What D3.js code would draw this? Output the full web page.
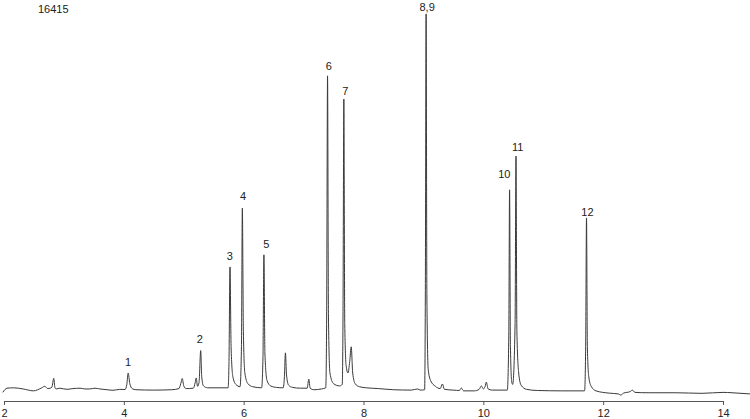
<!DOCTYPE html>
<html>
<head>
<meta charset="utf-8">
<script src="https://cdn.jsdelivr.net/npm/d3@7"></script>
<style>
  html, body { margin: 0; padding: 0; background: #fff; }
  svg { display: block; font-family: "Liberation Sans", Arial, sans-serif; }
</style>
</head>
<body>
<div id="chart"></div>
<script>
// sample id shown top-left
const sampleId = '16415';

// retention time (min) and detector signal
const traceTime = [
  1.98, 2.05, 2.16, 2.32, 2.49, 2.63, 2.68, 2.73, 2.77, 2.80, 2.83, 2.85, 2.87, 2.93,
  3.05, 3.15, 3.27, 3.35, 3.43, 3.52, 3.60, 3.72, 3.82, 3.93, 4.02, 4.05, 4.072, 4.10,
  4.14, 4.20, 4.50, 4.80, 4.92, 4.95, 4.975, 5.00, 5.04, 5.16, 5.19, 5.208, 5.23, 5.255,
  5.283, 5.30, 5.33, 5.40, 5.74, 5.755, 5.772, 5.79, 5.82, 5.87, 5.94, 5.963, 5.978, 5.995,
  6.02, 6.07, 6.15, 6.30, 6.322, 6.338, 6.355, 6.39, 6.45, 6.55, 6.66, 6.68, 6.697, 6.715,
  6.75, 6.82, 6.95, 7.06, 7.087, 7.11, 7.17, 7.30, 7.37, 7.385, 7.40, 7.415, 7.44, 7.50,
  7.60, 7.645, 7.658, 7.672, 7.687, 7.71, 7.74, 7.77, 7.795, 7.82, 7.86, 7.93, 8.05, 8.25,
  8.50, 8.80, 8.90, 8.95, 9.02, 9.032, 9.045, 9.058, 9.08, 9.12, 9.20, 9.28, 9.317, 9.35,
  9.50, 9.60, 9.633, 9.67, 9.85, 9.93, 9.967, 10.00, 10.03, 10.05, 10.08, 10.15, 10.40, 10.425,
  10.438, 10.452, 10.475, 10.49, 10.53, 10.545, 10.56, 10.59, 10.63, 10.72, 10.90, 11.30, 11.69, 11.708,
  11.722, 11.736, 11.76, 11.80, 11.88, 12.10, 12.25, 12.295, 12.34, 12.45, 12.488, 12.53, 12.75, 13.20,
  13.65, 14.00, 14.15, 14.45
];
const traceSignal = [
  -0.1, 1.0, 1.1, 0.8, 0.3, 1.1, 1.5, 0.9, 1.0, 1.3, 3.6, 1.2, 0.8, 1.0,
  0.7, 0.9, 1.0, 0.8, 0.8, 1.0, 0.8, 0.6, 0.45, 0.7, 0.65, 2.0, 5.0, 2.2,
  0.9, 0.6, 0.5, 0.6, 0.9, 2.2, 3.55, 1.6, 0.9, 1.0, 2.4, 3.7, 1.5, 2.5,
  10.9, 4.0, 1.6, 1.1, 1.1, 8, 32.9, 12, 4, 2, 1.4, 12, 48.4, 16,
  5, 2.2, 1.4, 1.1, 9, 36.1, 10, 3, 1.6, 1.2, 1.1, 4, 10.3, 4.5,
  1.8, 1.2, 1.0, 1.0, 3.4, 1.0, 0.6, 0.8, 1.1, 20, 83.2, 20, 5, 2.2,
  1.6, 2, 20, 77.1, 18, 7, 5, 8, 11.9, 5, 2.2, 1.4, 1.1, 0.9,
  0.6, 0.5, 0.8, 0.5, 0.6, 25, 99.5, 25, 6, 3, 1.5, 0.9, 2.1, 0.7,
  0.5, 0.4, 1.05, 0.3, 0.3, 0.7, 1.6, 0.8, 1.5, 2.6, 0.8, 0.5, 0.5, 15,
  53.2, 12, 2.5, 2, 18, 62.1, 16, 5, 1.8, 0.7, 0.4, 0.3, 0.3, 12,
  45.8, 12, 4, 1.5, 0.3, -0.3, -0.5, -0.8, -0.3, 0.1, 0.5, -0.1, -0.2, -0.2,
  -0.35, -0.1, -0.2, -0.5
];

// peak numbers and where their labels sit (time, signal at label baseline)
const peakLabels = ['1', '2', '3', '4', '5', '6', '7', '8,9', '10', '11', '12'];
const labelTime = [4.072, 5.267, 5.767, 5.988, 6.378, 7.422, 7.695, 9.062, 10.35, 10.572, 11.738];
const labelSignal = [6.8, 12.9, 34.7, 50.5, 37.9, 84.7, 78.2, 100.3, 56.3, 63.4, 46.3];

const xTicks = [2, 4, 6, 8, 10, 12, 14];

const width = 750;
const height = 419;

const svg = d3.select('#chart')
  .append('svg')
  .attr('width', width)
  .attr('height', height)
  .attr('viewBox', `0 0 ${width} ${height}`);

const x = d3.scaleLinear().domain([2, 14]).range([4, 723]);
const y = d3.scaleLinear().domain([0, 100]).range([392, 12]);

const trace = traceTime.map((t, i) => [t, traceSignal[i]]);

const line = d3.line()
  .x(d => x(d[0]))
  .y(d => y(d[1]))
  .curve(d3.curveMonotoneX);

svg.append('path')
  .datum(trace)
  .attr('fill', 'none')
  .attr('stroke', '#3a3a3a')
  .attr('stroke-width', 1)
  .attr('stroke-linejoin', 'round')
  .attr('d', line);

// x axis
const axis = svg.append('g')
  .attr('transform', 'translate(0,401)')
  .call(d3.axisBottom(x)
    .tickValues(xTicks)
    .tickSize(4)
    .tickSizeOuter(0)
    .tickPadding(4)
    .tickFormat(d3.format('d')));

axis.select('.domain').attr('stroke', '#555');
axis.selectAll('.tick line').attr('stroke', '#555');
axis.selectAll('.tick text')
  .attr('fill', '#222')
  .style('font-size', '11px')
  .style('font-family', '"Liberation Sans", Arial, sans-serif');

// peak labels
svg.append('g')
  .selectAll('text')
  .data(peakLabels)
  .join('text')
  .attr('x', (d, i) => x(labelTime[i]))
  .attr('y', (d, i) => y(labelSignal[i]))
  .attr('text-anchor', 'middle')
  .attr('fill', '#222')
  .style('font-size', '11px')
  .text(d => d);

svg.append('text')
  .attr('x', 38)
  .attr('y', 13)
  .attr('fill', '#222')
  .style('font-size', '11px')
  .text(sampleId);
</script>
</body>
</html>
